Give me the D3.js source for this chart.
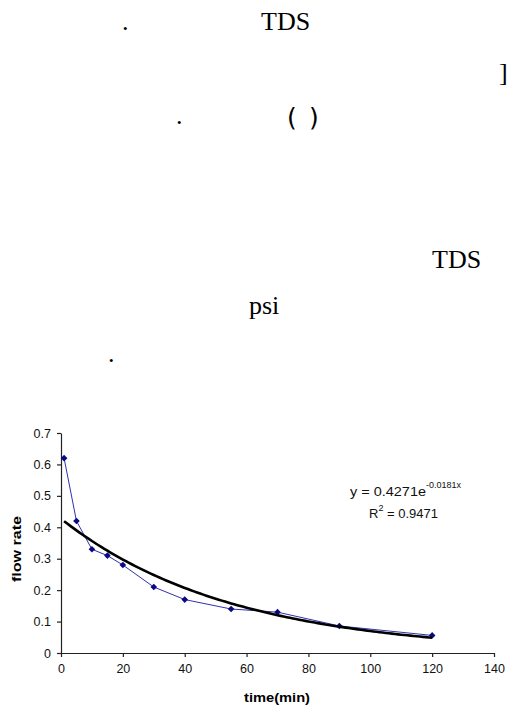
<!DOCTYPE html>
<html>
<head>
<meta charset="utf-8">
<script src="https://cdn.jsdelivr.net/npm/d3@7"></script>
<style>
  html, body { margin: 0; padding: 0; background: #fff; }
  svg { display: block; }
</style>
</head>
<body>
<svg id="page"></svg>
<script>
// measured flow rate over time
const timeMin = [1, 5, 10, 15, 20, 30, 40, 55, 70, 90, 120];
const flowRate = [0.62, 0.42, 0.33, 0.31, 0.28, 0.21, 0.17, 0.14, 0.13, 0.086, 0.056];

// axis ticks
const xTicks = [0, 20, 40, 60, 80, 100, 120, 140];
const yTicks = [0, 0.1, 0.2, 0.3, 0.4, 0.5, 0.6, 0.7];

// exponential trendline coefficients (y = a e^(bx)) and fit quality
const fitA = 0.4271;
const fitB = -0.0181;
const fitR2 = 0.9471;

// the scattered text fragments above the chart
const pageWords = ['.', 'TDS', ']', '.', '(', ')', 'TDS', 'psi', '.'];
const pageWordPos = [[122, 30], [261, 30], [499, 81], [176, 124], [287, 126], [309, 126], [432, 268], [249, 314], [108, 362]];

let width = 508;
let height = 711;

let svg = d3.select('#page').attr('width', width).attr('height', height);

// text of the page around the chart
svg.selectAll('.word')
  .data(pageWords)
  .enter()
  .append('text')
  .classed('word', true)
  .attr('x', (d, i) => pageWordPos[i][0])
  .attr('y', (d, i) => pageWordPos[i][1])
  .style('font-family', (d) => (d === '(' || d === ')') ? '"DejaVu Sans", sans-serif' : '"Liberation Serif", "Times New Roman", serif')
  .style('font-size', (d) => (d === '(' || d === ')') ? '25px' : '26px')
  .attr('fill', '#000')
  .text((d) => d);

// scales
let xScale = d3.scaleLinear().domain([0, 140]).range([61, 494]);
let yScale = d3.scaleLinear().domain([0, 0.7]).range([653, 433]);

let font = 'Arial, "Liberation Sans", sans-serif';

// axes
let xAxis = d3.axisBottom(xScale).tickValues(xTicks).tickSize(4).tickSizeOuter(0).tickPadding(5).tickFormat(d3.format('d'));
let yAxis = d3.axisLeft(yScale).tickValues(yTicks).tickSize(4).tickSizeOuter(0).tickPadding(6).tickFormat((d) => d === 0 ? '0' : d3.format('.1f')(d));

let gx = svg.append('g').attr('transform', 'translate(0,' + yScale(0) + ')').call(xAxis);
let gy = svg.append('g').attr('transform', 'translate(' + xScale(0) + ',0)').call(yAxis);

[gx, gy].forEach((g) => {
  g.select('.domain').attr('stroke', '#222').attr('stroke-width', 1.2);
  g.selectAll('.tick line').attr('stroke', '#222').attr('stroke-width', 1.2);
  g.selectAll('.tick text').attr('fill', '#111').style('font-family', font).style('font-size', '12.5px');
});
gx.selectAll('.tick text').attr('dy', '0.85em');

// measured series
let line = d3.line().x((d) => xScale(d[0])).y((d) => yScale(d[1]));
let points = timeMin.map((t, i) => [t, flowRate[i]]);

svg.append('path')
  .datum(points)
  .attr('d', line)
  .attr('fill', 'none')
  .attr('stroke', '#3030b0')
  .attr('stroke-width', 1);

svg.selectAll('.marker')
  .data(points)
  .enter()
  .append('path')
  .classed('marker', true)
  .attr('d', d3.symbol().type(d3.symbolSquare).size(22))
  .attr('transform', (d) => 'translate(' + xScale(d[0]) + ',' + yScale(d[1]) + ') rotate(45)')
  .attr('fill', '#0a0a80');

// trendline over the measured time range
let trendT = d3.range(timeMin[0], timeMin[timeMin.length - 1] + 0.5, 1);
svg.append('path')
  .datum(trendT.map((t) => [t, fitA * Math.exp(fitB * t)]))
  .attr('d', line)
  .attr('fill', 'none')
  .attr('stroke', '#000')
  .attr('stroke-width', 2.6);

// trendline equation
let eq = svg.append('text').attr('x', 350).attr('y', 496).style('font-family', font).style('font-size', '13px').attr('fill', '#111');
eq.append('tspan').attr('textLength', 76).attr('lengthAdjust', 'spacingAndGlyphs').text('y = ' + fitA + 'e');
eq.append('tspan').attr('dy', -8).style('font-size', '9px').text(fitB + 'x');

let r2 = svg.append('text').attr('x', 369).attr('y', 518).style('font-family', font).style('font-size', '13px').attr('fill', '#111');
r2.append('tspan').text('R');
r2.append('tspan').attr('dy', -7).style('font-size', '9px').text('2');
r2.append('tspan').attr('dy', 7).text(' = ' + fitR2);

// axis titles
svg.append('text')
  .attr('transform', 'translate(21,549) rotate(-90)')
  .attr('text-anchor', 'middle')
  .style('font-family', font)
  .style('font-size', '12px')
  .style('font-weight', 'bold')
  .attr('textLength', 66)
  .attr('lengthAdjust', 'spacingAndGlyphs')
  .attr('fill', '#000')
  .text('flow rate');

svg.append('text')
  .attr('x', 277)
  .attr('y', 702)
  .attr('text-anchor', 'middle')
  .style('font-family', font)
  .style('font-size', '12px')
  .style('font-weight', 'bold')
  .attr('textLength', 66)
  .attr('lengthAdjust', 'spacingAndGlyphs')
  .attr('fill', '#000')
  .text('time(min)');
</script>
</body>
</html>
